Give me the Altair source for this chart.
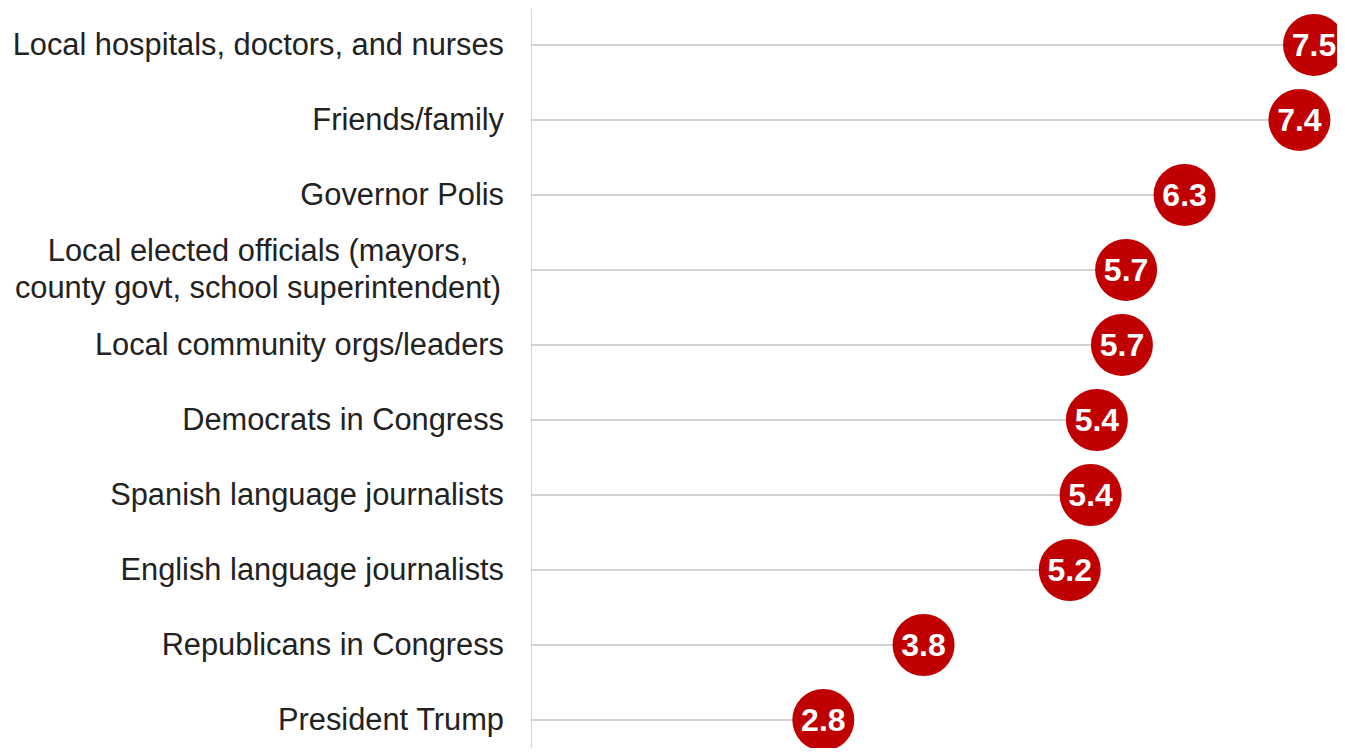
import altair as alt
import pandas as pd

categories = [
    "Local hospitals, doctors, and nurses",
    "Friends/family",
    "Governor Polis",
    "Local elected officials (mayors,\ncounty govt, school superintendent)",
    "Local community orgs/leaders",
    "Democrats in Congress",
    "Spanish language journalists",
    "English language journalists",
    "Republicans in Congress",
    "President Trump",
]
values = [7.5, 7.36, 6.26, 5.7, 5.66, 5.42, 5.36, 5.16, 3.76, 2.8]
multiline = [False, False, False, True, False, False, False, False, False, False]

df = pd.DataFrame({"cat": categories, "value": values, "multi": multiline})

FONT = "Liberation Sans"
RED = "#C00000"

y_enc = alt.Y(
    "cat:N",
    sort=categories,
    scale=alt.Scale(type="point", padding=0.4333, align=0.569),
    axis=alt.Axis(labels=False, ticks=False, domain=True, domainColor="#D9D9D9",
                  domainWidth=1.2, grid=False, title=None),
)
x_scale = alt.Scale(domain=[0, 7.72], nice=False, zero=True)

base = alt.Chart(df)

rules = base.mark_rule(color="#A6A6A6", strokeWidth=1.2).encode(
    x=alt.X("zero:Q", scale=x_scale, axis=None),
    x2="value:Q",
    y=y_enc,
).transform_calculate(zero="0")

dots = base.mark_circle(size=3844, color=RED, opacity=1).encode(
    x=alt.X("value:Q", scale=x_scale, axis=None),
    y=y_enc,
)

vals = base.mark_text(color="white", font=FONT, fontWeight="bold", fontSize=32,
                      align="center", baseline="middle", dy=1).encode(
    x=alt.X("value:Q", scale=x_scale, axis=None),
    y=y_enc,
    text=alt.Text("value:Q", format=".1f"),
)

labels_single = base.transform_filter("!datum.multi").mark_text(
    font=FONT, fontSize=30.8, color="#222222", align="right", baseline="middle", dy=1
).encode(
    x=alt.value(-27),
    y=y_enc,
    text="cat:N",
)

labels_multi = base.transform_filter("datum.multi").mark_text(
    font=FONT, fontSize=30.8, color="#222222", align="center", baseline="middle",
    lineBreak="\n", lineHeight=37, dy=-18
).encode(
    x=alt.value(-273),
    y=y_enc,
    text="cat:N",
)

chart = alt.layer(rules, dots, vals, labels_single, labels_multi).properties(
    width=806,
    height=740,
    background="white",
    autosize=alt.AutoSizeParams(type="none"),
    padding={"left": 523, "top": 0, "right": 0, "bottom": 0},
).configure_view(strokeWidth=0)

chart.save("out.html", embed_options={"renderer": "svg", "actions": False})
